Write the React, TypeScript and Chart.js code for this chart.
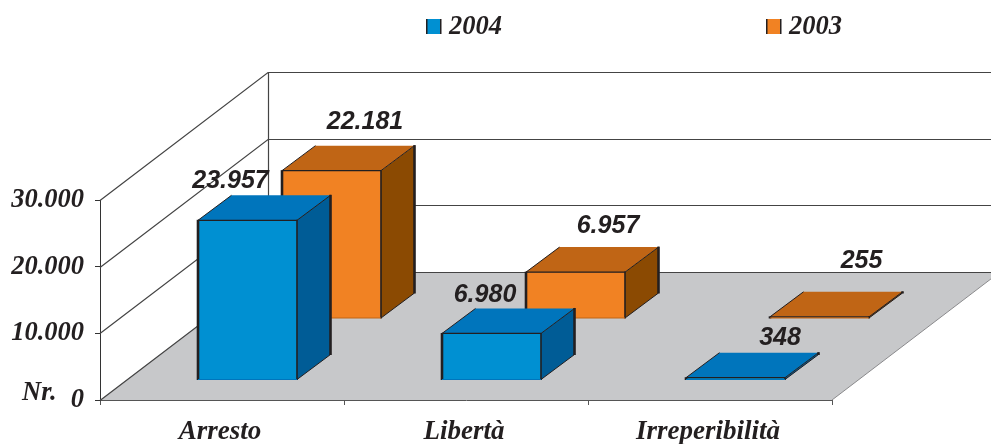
import React, { useEffect, useRef } from "react";
import { Chart, registerables } from "chart.js";

Chart.register(...registerables);

const categories = ["Arresto", "Libertà", "Irreperibilità"];
const values2004 = [23957, 6980, 348];
const values2003 = [22181, 6957, 255];
const yTicks = [0, 10000, 20000, 30000];

const INK = "#231f20";
const SERIF = '"Liberation Serif", serif';
const SANS = '"Liberation Sans", sans-serif';

// Look of the two rows of the 3D chart
const rows = [
  { front: "#0090d2", top: "#0075bc", side: "#005c96", shift: [25.5, -20] },
  { front: "#f18223", top: "#c06515", side: "#8b4a02", shift: [109.5, -81.5] },
];
const barDepth = [33.5, -25];
const wallDepth = [168, -128];
const labelNudges = [
  [[-17, -39], [-6.5, -38], [44.5, -40]],
  [[33.5, -49], [32.5, -46], [42, -56]],
];

const fmt = (v: number) => String(v).replace(/\B(?=(\d{3})+(?!\d))/g, ".");

const scene3d = {
  id: "scene3d",
  beforeDatasetsDraw(chart: any) {
    const { ctx, scales, chartArea } = chart;
    const y = scales.y;
    const { left, right, bottom } = chartArea;
    const [dx, dy] = wallDepth;
    ctx.save();
    ctx.fillStyle = "#c7c8ca";
    ctx.beginPath();
    ctx.moveTo(left, bottom);
    ctx.lineTo(right, bottom);
    ctx.lineTo(right + dx, bottom + dy);
    ctx.lineTo(left + dx, bottom + dy);
    ctx.closePath();
    ctx.fill();

    ctx.strokeStyle = "#8a8a8c";
    ctx.lineWidth = 1;
    ctx.beginPath();
    ctx.moveTo(right, bottom);
    ctx.lineTo(right + dx, bottom + dy);
    ctx.stroke();

    ctx.strokeStyle = "#444";
    ctx.lineWidth = 1.2;
    ctx.beginPath();
    for (const t of yTicks) {
      const py = Math.round(y.getPixelForValue(t)) + 0.5;
      ctx.moveTo(left, py);
      ctx.lineTo(left + dx, py + dy);
      ctx.lineTo(chart.width + 2, py + dy);
    }
    ctx.moveTo(left + dx + 0.5, y.getPixelForValue(30000) + dy);
    ctx.lineTo(left + dx + 0.5, bottom + dy);
    ctx.stroke();
    ctx.restore();

    // legend
    ctx.save();
    ctx.font = `italic bold 26.5px ${SERIF}`;
    ctx.textAlign = "left";
    ctx.textBaseline = "middle";
    chart.data.datasets.forEach((d: any, i: number) => {
      const bx = [426, 766][i];
      ctx.fillStyle = rows[i].front;
      ctx.fillRect(bx, 19, 15, 15);
      ctx.fillStyle = INK;
      ctx.fillRect(bx, 19, 1.5, 15);
      ctx.fillRect(bx + 14, 19, 1.5, 15);
      ctx.fillText(d.label, bx + 23, 27);
    });
    ctx.fillStyle = INK;
    ctx.fillText("Nr.", 22, 393);
    ctx.restore();
  },
  beforeDatasetDraw() {
    return false;
  },
  afterDatasetsDraw(chart: any) {
    const { ctx } = chart;
    const [bx, by] = barDepth;
    const seg = (x1: number, y1: number, x2: number, y2: number, w: number, c: string = INK) => {
      ctx.strokeStyle = c;
      ctx.lineWidth = w;
      ctx.beginPath();
      ctx.moveTo(x1, y1);
      ctx.lineTo(x2, y2);
      ctx.stroke();
    };
    ctx.save();
    ctx.lineCap = "butt";
    for (const i of [1, 0]) {
      const meta = chart.getDatasetMeta(i);
      const r = rows[i];
      meta.data.forEach((el: any) => {
        const { x, y, base, width } = el.getProps(["x", "y", "base", "width"], true);
        const l = x - width / 2 + r.shift[0];
        const w = width;
        const t = y + r.shift[1];
        const b = base + r.shift[1];
        // side
        ctx.fillStyle = r.side;
        ctx.beginPath();
        ctx.moveTo(l + w, t);
        ctx.lineTo(l + w + bx, t + by);
        ctx.lineTo(l + w + bx, b + by);
        ctx.lineTo(l + w, b);
        ctx.closePath();
        ctx.fill();
        // top
        ctx.fillStyle = r.top;
        ctx.beginPath();
        ctx.moveTo(l, t);
        ctx.lineTo(l + bx, t + by);
        ctx.lineTo(l + w + bx, t + by);
        ctx.lineTo(l + w, t);
        ctx.closePath();
        ctx.fill();
        // front
        ctx.fillStyle = r.front;
        ctx.fillRect(l, t, w, b - t);
        // edges
        seg(l, t, l + bx, t + by, 1);
        seg(l + w, t, l + w + bx, t + by, 1);
        seg(l + w, b, l + w + bx, b + by, 1);
        seg(l + w + bx, t + by - 0.5, l + w + bx, b + by + 0.5, 2.6);
        seg(l, t - 0.5, l, b + 0.5, 2.6);
        seg(l + w, t - 0.5, l + w, b + 0.5, 1.6);
        seg(l, t, l + w, t, 1.2);
        seg(l, b, l + w, b, 1, r.top);
      });
    }
    // value labels
    ctx.fillStyle = INK;
    ctx.font = `italic bold 25px ${SANS}`;
    ctx.textAlign = "center";
    ctx.textBaseline = "middle";
    for (const i of [1, 0]) {
      const meta = chart.getDatasetMeta(i);
      const r = rows[i];
      meta.data.forEach((el: any, j: number) => {
        const { x, y } = el.getProps(["x", "y"], true);
        const v = chart.data.datasets[i].data[j];
        const [nx, ny] = labelNudges[i][j];
        ctx.fillText(fmt(v), x + r.shift[0] + nx, y + r.shift[1] + ny);
      });
    }
    ctx.restore();
  },
};

export default function App() {
  const ref = useRef<HTMLCanvasElement>(null);
  useEffect(() => {
    const chart = new Chart(ref.current!, {
      type: "bar",
      data: {
        labels: categories,
        datasets: [
          { label: "2004", data: values2004, backgroundColor: rows[0].front, grouped: false, barPercentage: 99 / 244, categoryPercentage: 1 },
          { label: "2003", data: values2003, backgroundColor: rows[1].front, grouped: false, barPercentage: 99 / 244, categoryPercentage: 1 },
        ] as any,
      },
      options: {
        animation: false,
        responsive: false,
        layout: { padding: { top: 200, right: 159, left: 0, bottom: 0 } },
        plugins: { legend: { display: false }, tooltip: { enabled: false } },
        scales: {
          x: {
            afterFit: (s: any) => { s.height = 44; },
            grid: { drawOnChartArea: false, drawTicks: true, tickLength: 5, color: "#555", offset: true },
            border: { color: "#555" },
            ticks: { color: INK, font: { family: SERIF, size: 27, weight: "bold", style: "italic" }, padding: 11, labelOffset: -2, maxRotation: 0 },
          },
          y: {
            min: 0,
            max: 30000,
            afterFit: (s: any) => { s.width = 100; },
            grid: { drawOnChartArea: false, drawTicks: true, tickLength: 5, color: "#333" },
            border: { color: "#333" },
            ticks: {
              stepSize: 10000,
              color: INK,
              padding: 11,
              font: { family: SERIF, size: 26.5, weight: "bold", style: "italic" },
              callback: (v: any) => fmt(v),
            },
          },
        },
      } as any,
      plugins: [scene3d as any],
    });
    return () => chart.destroy();
  }, []);
  return (
    <div style={{ position: "fixed", left: 0, top: 0, width: 991, height: 444, background: "#fff" }}>
      <canvas ref={ref} width={991} height={444} style={{ display: "block" }} />
    </div>
  );
}
